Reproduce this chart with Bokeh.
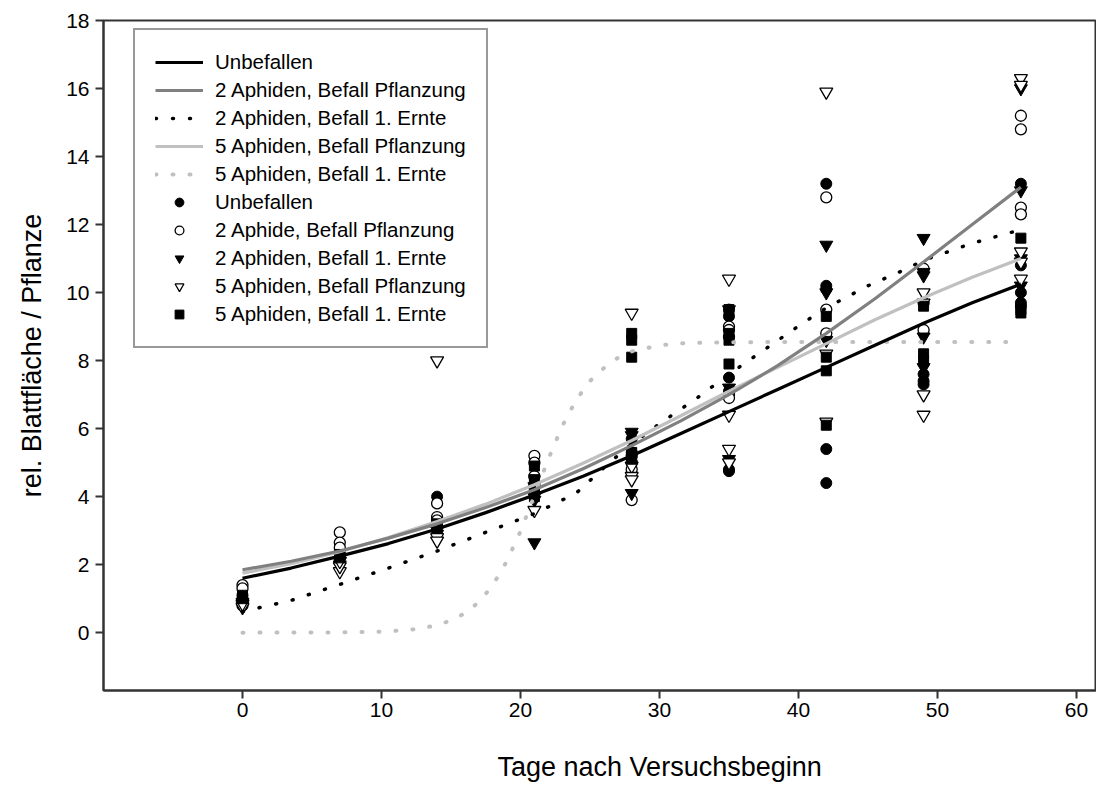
from bokeh.plotting import figure
from bokeh.models import Range1d, FixedTicker, Legend, LegendItem, Title
from bokeh.embed import file_html
from bokeh.resources import INLINE

# ---------------- data ----------------
x_ticks = [0, 10, 20, 30, 40, 50, 60]
y_ticks = [0, 2, 4, 6, 8, 10, 12, 14, 16, 18]

# scatter: Unbefallen (filled circle)
unbef_x = [0, 0, 0, 7, 7, 7, 14, 14, 14, 21, 21, 21, 28, 28, 28,
           35, 35, 35, 35, 35, 35, 42, 42, 42, 42, 42, 49, 49, 49,
           56, 56, 56, 56, 56]
unbef_y = [1.1, 1.0, 0.95, 2.4, 2.3, 2.2, 4.0, 3.3, 3.2, 4.6, 4.3, 4.1, 5.7, 5.3, 5.0,
           9.5, 9.3, 7.5, 7.1, 4.8, 4.75, 13.2, 10.2, 10.1, 5.4, 4.4, 7.6, 7.4, 7.3,
           13.2, 10.8, 10.0, 9.7, 9.6]

# scatter: 2 Aphide, Befall Pflanzung (open circle)
a2p_x = [0, 0, 0, 7, 7, 7, 14, 14, 14, 21, 21, 21, 21, 28, 28, 28, 28,
         35, 35, 35, 35, 35, 42, 42, 42, 49, 49, 49, 56, 56, 56, 56]
a2p_y = [1.4, 1.3, 0.8, 2.95, 2.65, 2.5, 3.8, 3.4, 3.3, 5.2, 5.0, 4.6, 4.3, 5.2, 5.0, 4.8, 3.9,
         9.0, 8.9, 8.7, 7.0, 6.9, 12.8, 9.5, 8.8, 10.7, 9.7, 8.9, 15.2, 14.8, 12.5, 12.3]

# scatter: 2 Aphiden, Befall 1. Ernte (filled down triangle)
a2e_x = [0, 0, 7, 7, 14, 14, 21, 21, 21, 28, 28, 28, 35, 35, 35,
         42, 42, 42, 49, 49, 49, 49, 49, 56, 56, 56, 56]
a2e_y = [0.9, 0.8, 2.1, 2.0, 3.0, 2.9, 4.3, 3.9, 2.65, 5.9, 5.8, 4.1, 9.5, 7.2, 5.1,
         11.4, 10.0, 8.6, 11.6, 10.6, 10.5, 8.7, 7.8, 16.0, 13.0, 11.0, 10.2]

# scatter: 5 Aphiden, Befall Pflanzung (open down triangle)
a5p_x = [0, 0, 7, 7, 7, 14, 14, 14, 21, 21, 28, 28, 28, 28, 35, 35, 35, 35,
         42, 42, 42, 49, 49, 49, 49, 56, 56, 56, 56, 56]
a5p_y = [0.75, 0.85, 1.8, 1.95, 2.1, 8.0, 2.8, 2.7, 4.0, 3.6, 9.4, 4.9, 4.6, 4.5, 10.4, 6.4, 5.4, 5.0,
         15.9, 8.2, 6.2, 10.0, 9.7, 7.0, 6.4, 16.3, 16.1, 11.2, 10.9, 10.4]

# scatter: 5 Aphiden, Befall 1. Ernte (filled square)
a5e_x = [0, 0, 7, 7, 14, 14, 21, 21, 21, 21, 28, 28, 28, 28, 28,
         35, 35, 35, 35, 42, 42, 42, 42, 49, 49, 49, 56, 56, 56]
a5e_y = [1.0, 1.1, 2.3, 2.2, 3.2, 3.1, 4.9, 4.5, 4.2, 4.0, 8.8, 8.6, 8.1, 5.3, 5.1,
         9.5, 8.8, 8.6, 7.9, 9.3, 8.1, 7.7, 6.1, 9.6, 8.2, 8.0, 11.6, 9.5, 9.4]

# fitted curves
curve_x = [0, 3.5, 7, 10.5, 14, 17.5, 21, 24.5, 28, 31.5, 35, 38.5, 42, 45.5, 49, 52.5, 56]
curve_unbef = [1.6, 1.9, 2.25, 2.62, 3.05, 3.53, 4.05, 4.6, 5.2, 5.85, 6.5, 7.15, 7.8, 8.45, 9.1, 9.7, 10.25]
curve_a2p = [1.85, 2.1, 2.4, 2.78, 3.2, 3.68, 4.2, 4.82, 5.5, 6.22, 7.0, 7.85, 8.8, 9.82, 10.9, 12.0, 13.1]
curve_a5p = [1.75, 2.03, 2.38, 2.8, 3.27, 3.78, 4.35, 4.98, 5.65, 6.37, 7.1, 7.8, 8.5, 9.2, 9.85, 10.45, 11.0]

curve_a2e_x = [0, 3.5, 7, 10.5, 14, 17.5, 21, 24, 26.4, 28, 30.2, 32.7, 35, 38, 40.3, 42, 45, 47.8, 49, 52.5, 56]
curve_a2e = [0.62, 0.95, 1.42, 1.9, 2.4, 2.95, 3.5, 4.1, 5.0, 5.55, 6.2, 6.9, 7.6, 8.45, 9.1, 9.55, 10.2, 10.7, 10.95, 11.45, 11.85]

curve_a5e_x = [0, 7, 10, 12, 13, 14, 15, 16, 17, 18, 19, 20, 21, 22, 23, 24, 25, 26, 27, 28, 30, 32, 35, 42, 56]
curve_a5e = [0.0, 0.01, 0.03, 0.08, 0.14, 0.22, 0.36, 0.57, 0.9, 1.39, 2.09, 2.98, 4.03, 5.1, 6.07,
             6.84, 7.4, 7.78, 8.08, 8.27, 8.45, 8.52, 8.54, 8.55, 8.55]

legend_lines = ["Unbefallen", "2 Aphiden, Befall Pflanzung", "2 Aphiden, Befall 1. Ernte",
                "5 Aphiden, Befall Pflanzung", "5 Aphiden, Befall 1. Ernte"]
legend_points = ["Unbefallen", "2 Aphide, Befall Pflanzung", "2 Aphiden, Befall 1. Ernte",
                 "5 Aphiden, Befall Pflanzung", "5 Aphiden, Befall 1. Ernte"]
x_title = "Tage nach Versuchsbeginn"
y_title = "rel. Blattfläche / Pflanze"

FONT = "Liberation Sans"
DARK = "#808080"
LIGHT = "#c0c0c0"

p = figure(frame_width=993, frame_height=670,
           x_range=Range1d(-10, 61.44), y_range=Range1d(-1.7, 18),
           output_backend="svg", toolbar_location=None,
           min_border_left=103, min_border_right=0, min_border_top=20, min_border_bottom=0,
           background_fill_color="white", border_fill_color="white")
p.grid.visible = False
p.outline_line_color = "#333333"
p.outline_line_width = 2

p.xaxis.ticker = FixedTicker(ticks=x_ticks)
p.yaxis.ticker = FixedTicker(ticks=y_ticks)
p.yaxis.axis_label = y_title
for ax in (p.xaxis, p.yaxis):
    ax.axis_line_color = "#333333"
    ax.axis_line_width = 2
    ax.major_tick_line_color = "#333333"
    ax.major_tick_line_width = 2
    ax.major_tick_out = 8
    ax.major_tick_in = 0
    ax.minor_tick_out = 0
    ax.minor_tick_in = 0
    ax.major_label_text_font = FONT
    ax.major_label_text_font_size = "21px"
    ax.major_label_text_color = "black"
    ax.axis_label_text_font = FONT
    ax.axis_label_text_font_size = "27px"
    ax.axis_label_text_font_style = "normal"
    ax.axis_label_text_color = "black"
p.xaxis.major_label_standoff = 4
p.yaxis.major_label_standoff = 6
p.yaxis.axis_label_standoff = 16

# x-axis title, centred on the full (cropped) axis frame
p.add_layout(Title(text=x_title, align="left", offset=394, standoff=60,
                   text_font=FONT, text_font_size="27px", text_font_style="normal",
                   text_color="black"), "below")

# scatter markers
r_p1 = p.scatter(unbef_x, unbef_y, marker="circle", size=11, fill_color="black", line_color="black")
r_p2 = p.scatter(a2p_x, a2p_y, marker="circle", size=11, fill_color="white", line_color="black", line_width=1.3)
r_p3 = p.scatter(a2e_x, a2e_y, marker="inverted_triangle", size=13, fill_color="black", line_color="black")
r_p4 = p.scatter(a5p_x, a5p_y, marker="inverted_triangle", size=13, fill_color="white", line_color="black", line_width=1.3)
r_p5 = p.scatter(a5e_x, a5e_y, marker="square", size=10, fill_color="black", line_color="black")

# curves
r_l5 = p.line(curve_a5e_x, curve_a5e, line_color=LIGHT, line_width=4, line_dash="1 16", line_cap="round")
r_l3 = p.line(curve_a2e_x, curve_a2e, line_color="black", line_width=3.5, line_dash="1 16", line_cap="round")
r_l4 = p.line(curve_x, curve_a5p, line_color=LIGHT, line_width=3.2)
r_l2 = p.line(curve_x, curve_a2p, line_color=DARK, line_width=3.2)
r_l1 = p.line(curve_x, curve_unbef, line_color="black", line_width=3.2)

items = [LegendItem(label=legend_lines[0], renderers=[r_l1]),
         LegendItem(label=legend_lines[1], renderers=[r_l2]),
         LegendItem(label=legend_lines[2], renderers=[r_l3]),
         LegendItem(label=legend_lines[3], renderers=[r_l4]),
         LegendItem(label=legend_lines[4], renderers=[r_l5]),
         LegendItem(label=legend_points[0], renderers=[r_p1]),
         LegendItem(label=legend_points[1], renderers=[r_p2]),
         LegendItem(label=legend_points[2], renderers=[r_p3]),
         LegendItem(label=legend_points[3], renderers=[r_p4]),
         LegendItem(label=legend_points[4], renderers=[r_p5])]

legend = Legend(items=items, location=(30, 342), padding=20, spacing=4,
                label_height=22, glyph_height=22, glyph_width=48, label_standoff=12,
                label_text_font=FONT, label_text_font_size="20.5px", label_text_color="black",
                border_line_color="#333333", border_line_width=2,
                background_fill_color="white", background_fill_alpha=1.0, margin=0)
p.add_layout(legend)

open("out.html", "w").write(file_html(p, INLINE))
